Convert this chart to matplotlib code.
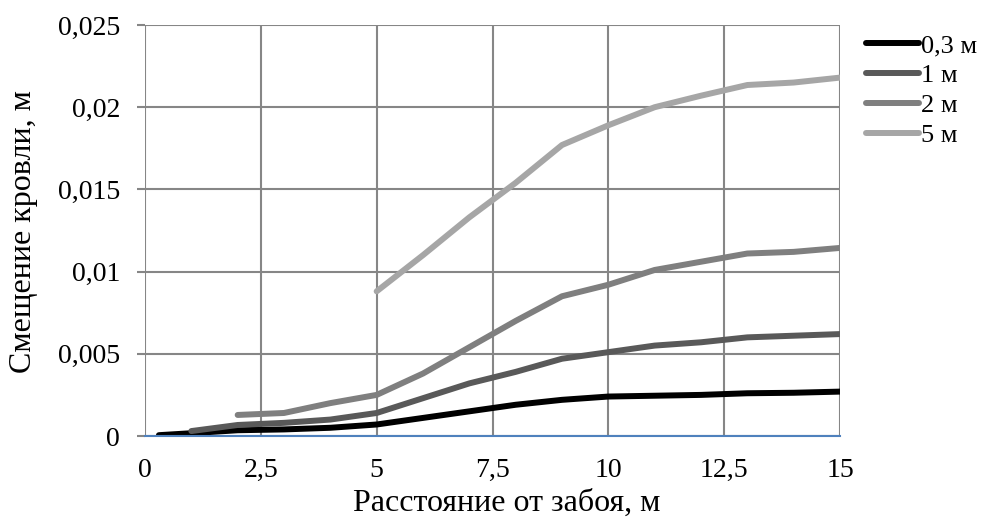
import numpy as np
import matplotlib
matplotlib.use("Agg")
import matplotlib.pyplot as plt

# data
x_03 = [0.3, 1, 2, 3, 4, 5, 6, 7, 8, 9, 10, 11, 12, 13, 14, 15]
y_03 = [0.00005, 0.00017, 0.00035, 0.0004, 0.0005, 0.0007, 0.0011, 0.0015, 0.0019,
        0.0022, 0.0024, 0.00245, 0.0025, 0.0026, 0.00263, 0.0027]

x_1 = [1, 2, 3, 4, 5, 6, 7, 8, 9, 10, 11, 12, 13, 14, 15]
y_1 = [0.0003, 0.00067, 0.0008, 0.001, 0.0014, 0.0023, 0.0032, 0.0039, 0.0047,
       0.0051, 0.0055, 0.0057, 0.006, 0.0061, 0.0062]

x_2 = [2, 3, 4, 5, 6, 7, 8, 9, 10, 11, 12, 13, 14, 15]
y_2 = [0.00128, 0.0014, 0.002, 0.0025, 0.0038, 0.0054, 0.0070, 0.0085, 0.0092,
       0.0101, 0.0106, 0.0111, 0.0112, 0.01144]

x_5 = [5, 6, 7, 8, 9, 10, 11, 12, 13, 14, 15]
y_5 = [0.0088, 0.011, 0.0133, 0.0154, 0.0177, 0.0189, 0.02, 0.0207, 0.02135,
       0.0215, 0.0218]

labels = ['0,3 м', '1 м', '2 м', '5 м']
colors = ['#000000', '#595959', '#7f7f7f', '#a6a6a6']

xticks = [0, 2.5, 5, 7.5, 10, 12.5, 15]
xtick_labels = ['0', '2,5', '5', '7,5', '10', '12,5', '15']
yticks = [0, 0.005, 0.01, 0.015, 0.02, 0.025]
ytick_labels = ['0', '0,005', '0,01', '0,015', '0,02', '0,025']

plt.rcParams['font.family'] = ['Liberation Serif', 'DejaVu Serif']

fig = plt.figure(figsize=(9.83, 5.2), dpi=100)
ax = fig.add_axes([145/983, 1-436/520, 695/983, 411/520])

series = [(x_03, y_03), (x_1, y_1), (x_2, y_2), (x_5, y_5)]
for (xs, ys), lab, col in zip(series, labels, colors):
    ax.plot(xs, ys, color=col, lw=4.3, label=lab, solid_capstyle='round',
            solid_joinstyle='round', zorder=3)

ax.set_xlim(0, 15)
ax.set_ylim(0, 0.025)
ax.set_xticks(xticks)
ax.set_xticklabels(xtick_labels)
ax.set_yticks(yticks)
ax.set_yticklabels(ytick_labels)
ax.grid(True, color='#868686', lw=1.5)
ax.set_axisbelow(True)
for s in ['top', 'left', 'right']:
    ax.spines[s].set_visible(False)
ax.spines['bottom'].set_color('#4f81bd')
ax.spines['bottom'].set_linewidth(1.5)
ax.spines['bottom'].set_zorder(4)
ax.tick_params(axis='x', length=0, pad=16, labelsize=20)
ax.tick_params(axis='y', length=6, width=1.5, color='#868686', pad=12, labelsize=20)

fig.text(507/983, 1-503/520, 'Расстояние от забоя, м', ha='center', va='center', fontsize=23)
fig.text(24/983, 1-232/520, 'Смещение кровли, м', ha='center', va='center',
         rotation=90, fontsize=23)

fig.legend(loc='upper left', bbox_to_anchor=(866/983, 1-34/520), frameon=False,
           fontsize=19, handlelength=2.0, handletextpad=0.08, labelspacing=0.24,
           borderaxespad=0, borderpad=0)

fig.savefig('out.png', dpi=100)
